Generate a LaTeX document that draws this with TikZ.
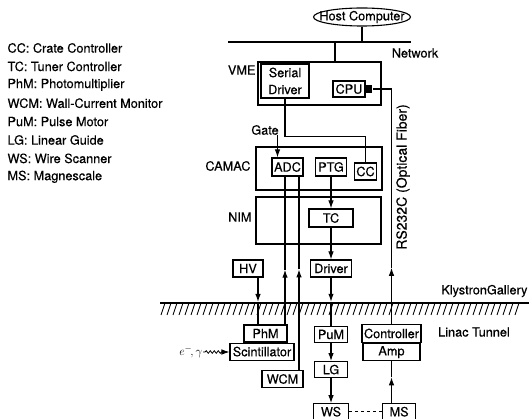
\documentclass[tikz,border=0pt]{standalone}
\usepackage{fontspec}
\setmainfont{TeX Gyre Heros}[FakeBold=0.4]
\usetikzlibrary{arrows.meta,positioning,shapes.geometric}
\usetikzlibrary{decorations.pathmorphing}
\newcommand{\figfont}{\fontsize{12.7}{14}\selectfont}
\tikzset{
unit_box/.style={rectangle, draw, line width=1.1pt, inner xsep=2pt, inner ysep=1pt, minimum width=#1, minimum height=17pt, font=\figfont},
unit_box/.default=20pt,
crate/.style={rectangle, draw, line width=1.1pt},
host_box/.style={ellipse, draw, line width=1.1pt, inner sep=0pt, minimum width=97pt, minimum height=18pt},
side_label/.style={font=\figfont, inner sep=0pt},
legend_item/.style={anchor=west, font=\figfont, inner sep=0pt},
tip/.style={-{Latex[length=8pt,width=5.5pt]}},
hatch/.style={line width=0.9pt}
}

\begin{document}
\begin{tikzpicture}[x=1pt, y=-1pt, line width=1.1pt]
\useasboundingbox (0,0) rectangle (529,419);
% legend
\foreach \txt [count=\i from 0] in {CC: Crate Controller, TC: Tuner Controller, PhM: Photomultiplier, WCM: Wall-Current Monitor, PuM: Pulse Motor, LG: Linear Guide, WS: Wire Scanner, MS: Magnescale}
  \node[legend_item] (legend_\i) at (7,{48+18.4*\i}) {\txt};

% host and network
\node[host_box, label={[font=\figfont, inner sep=0pt]center:Host Computer}] (host) at (362,17) {};
\coordinate (net_w) at (228,42);
\coordinate (net_e) at (411,42);
\draw (net_w) -- (net_e);
\draw (host.south) -- (host.south |- net_w);
\node[side_label] (network) at (415,53) {Network};

% VME
\node[crate, minimum width=123pt, minimum height=43pt] (vme) at (319.5,83.5) {};
\node[side_label, anchor=east] (vme_label) at (256,70) {VME};
\draw ([xshift=15.5pt]vme.north) -- ([xshift=15.5pt]vme.north |- net_w);
\node[unit_box=48pt, minimum height=34pt, align=center, font=\fontsize{12.7}{17}\selectfont] (serial) at (285,81) {Serial\\Driver};
\node[unit_box=32pt, minimum height=16pt] (cpu) at (349,89) {CPU};
\node[fill, minimum width=6pt, minimum height=8pt, inner sep=0pt, anchor=west] (cpu_port) at (cpu.east) {};

% CAMAC
\node[crate, minimum width=126pt, minimum height=43pt] (camac) at (319,168.5) {};
\node[side_label, anchor=east] (camac_label) at (251,166) {CAMAC};
\node[unit_box=31pt, minimum height=18pt] (adc) at (287.5,167) {ADC};
\node[unit_box=31pt, minimum height=18pt] (ptg) at (331,167) {PTG};
\node[unit_box=21pt] (cc) at (365.5,171.5) {CC};
\node[side_label] (gate) at (265,130) {Gate};
\draw[tip] ([xshift=-10pt]adc.north |- gate.south) -- ([xshift=-10pt]adc.north);
\draw (serial.south) -- ++(0,38) -| (cc.north);

% NIM
\node[crate, minimum width=125pt, minimum height=47pt] (nim) at (318.5,220.5) {};
\node[side_label, anchor=east] (nim_label) at (252,217) {NIM};
\node[unit_box=44pt, minimum height=18pt] (tc) at (331,218) {TC};
\draw[tip] (ptg.south) -- (tc.north);
\node[unit_box=41pt] (driver) at (331,268.5) {Driver};
\draw[tip] (tc.south) -- (driver.north);
\node[unit_box=30pt] (hv) at (248,268.5) {HV};

% ground between gallery and tunnel
\coordinate (gnd_w) at (160,303);
\coordinate (gnd_e) at (529,303);
\draw (gnd_w) -- (gnd_e);
\foreach \hx in {161,167,...,515}
  \draw[hatch] (\hx,315) -- ++(4,-12);
\node[side_label, anchor=east] (gallery) at (528,291) {KlystronGallery};
\node[side_label] (tunnel) at (474,332) {Linac Tunnel};

% tunnel
\node[unit_box=43pt] (phm) at (265.5,333.5) {PhM};
\node[unit_box=64pt, below=0pt of phm, xshift=-3.5pt] (scint) {Scintillator};
\node[unit_box=41pt] (wcm) at (282.5,379) {WCM};
\node[side_label, anchor=east] (beam) at (203,352) {$e^-\!,\gamma$};
\draw[tip, decorate, decoration={snake, amplitude=1.3pt, segment length=4pt, pre length=2pt, post length=6pt}, line width=0.8pt] (beam.east) -- (beam.east -| scint.west);

\node[unit_box=33pt, minimum height=16pt] (pum) at (331,334.5) {PuM};
\node[unit_box=33pt, minimum height=16pt, below=18pt of pum] (lg) {LG};
\draw[tip] (pum.south) -- (lg.north);
\node[unit_box=35pt, minimum height=16pt, below=25pt of lg] (ws) {WS};
\draw[tip] (lg.south) -- (ws.north);
\node[unit_box=33pt, minimum height=16pt, right=33pt of ws] (ms) {MS};
\draw[dash pattern=on 3pt off 3pt] (ws.east) -- (ms.west);

\node[unit_box=57pt, minimum height=17.5pt] (ctrl) at (391.5,333.5) {Controller};
\node[unit_box=57pt, minimum height=17.5pt, below=0pt of ctrl] (amp) {Amp};

% lines with the arrow part way along
\path ([xshift=10pt]hv.south) -- ([xshift=10pt]hv.south |- phm.north) coordinate[pos=0.52] (hv_mid);
\draw[tip] ([xshift=10pt]hv.south) -- (hv_mid);
\draw (hv_mid) -- ([xshift=10pt]hv.south |- phm.north);
\path (driver.south) -- (pum.north) coordinate[pos=0.5] (driver_mid);
\draw[tip] (driver.south) -- (driver_mid);
\draw (driver_mid) -- (pum.north);
\path ([xshift=-2.5pt]adc.south |- phm.north) -- ([xshift=-2.5pt]adc.south) coordinate[pos=0.37] (phm_mid);
\draw[tip] ([xshift=-2.5pt]adc.south |- phm.north) -- (phm_mid);
\draw (phm_mid) -- ([xshift=-2.5pt]adc.south);
\path ([xshift=11.5pt]adc.south |- wcm.north) -- ([xshift=11.5pt]adc.south) coordinate[pos=0.52] (wcm_mid);
\draw[tip] ([xshift=11.5pt]adc.south |- wcm.north) -- (wcm_mid);
\draw (wcm_mid) -- ([xshift=11.5pt]adc.south);
\path (amp.south |- ms.north) -- (amp.south) coordinate[pos=0.62] (ms_mid);
\draw[tip] (amp.south |- ms.north) -- (ms_mid);
\draw (ms_mid) -- (amp.south);
\path (ctrl.north) -- (ctrl.north |- cpu_port.east) coordinate[pos=0.24] (ctrl_mid);
\draw[tip] (ctrl.north) -- (ctrl_mid);
\draw (ctrl_mid) |- (cpu_port.east);
\node[side_label, rotate=90, font=\fontsize{14}{16}\selectfont] (rs232c) at (403,177) {RS232C (Optical Fiber)};
\end{tikzpicture}
\end{document}
